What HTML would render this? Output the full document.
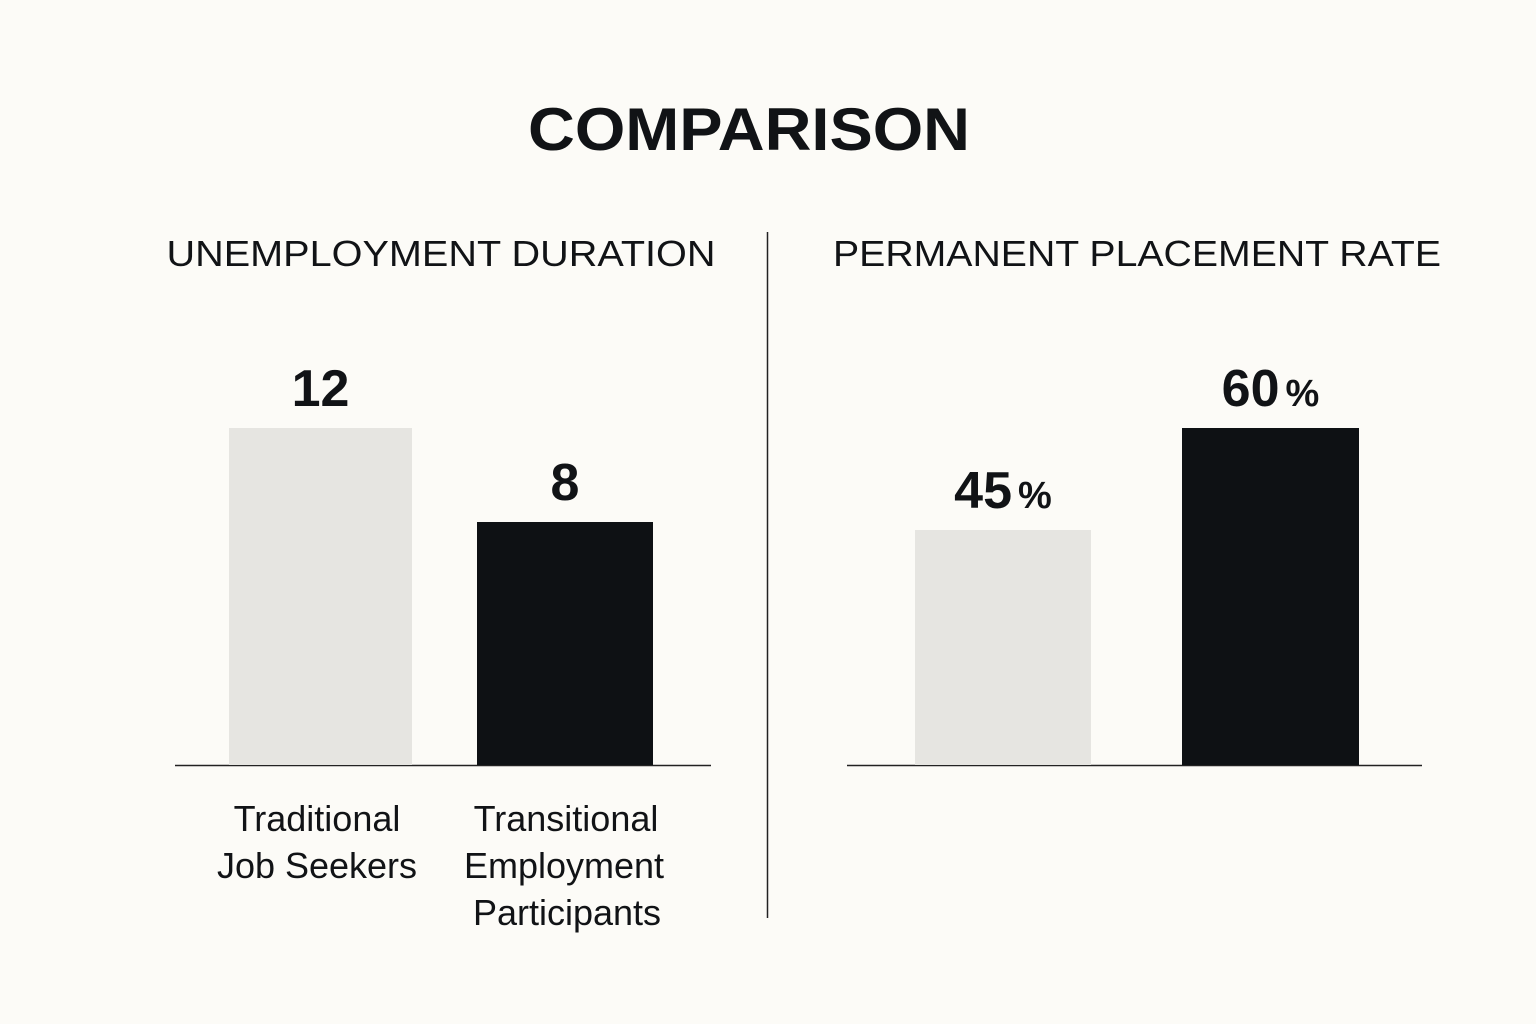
<!DOCTYPE html>
<html><head><meta charset="utf-8"><style>
html,body{margin:0;padding:0;background:#fcfbf7;}
svg{display:block;font-family:"Liberation Sans",sans-serif;}
</style></head><body>
<svg id="chart" width="1536" height="1024" viewBox="0 0 1536 1024">
<rect width="1536" height="1024" fill="#fcfbf7"/>
<text x="749" y="150" text-anchor="middle" font-size="60" font-weight="700" fill="#111316" textLength="442" lengthAdjust="spacingAndGlyphs">COMPARISON</text>
<text x="441" y="266" text-anchor="middle" font-size="36" font-weight="500" fill="#111316" textLength="549" lengthAdjust="spacingAndGlyphs">UNEMPLOYMENT DURATION</text>
<text x="1137" y="266" text-anchor="middle" font-size="36" font-weight="500" fill="#111316" textLength="608" lengthAdjust="spacingAndGlyphs">PERMANENT PLACEMENT RATE</text>
<line x1="767.5" y1="232" x2="767.5" y2="918" stroke="#222" stroke-width="1.5"/>
<line x1="175" y1="765.5" x2="711" y2="765.5" stroke="#222" stroke-width="1.5"/>
<line x1="847" y1="765.5" x2="1422" y2="765.5" stroke="#222" stroke-width="1.5"/>
<g id="cats" font-size="36" fill="#111316" text-anchor="middle">
<text x="317" y="831">Traditional</text>
<text x="317" y="878">Job Seekers</text>
<text x="566" y="831">Transitional</text>
<text x="564" y="878">Employment</text>
<text x="567" y="925">Participants</text>
</g>
</svg>
<script>
const leftCategories = ["Traditional Job Seekers", "Transitional Employment Participants"];
const leftValues = [12, 8];
const rightCategories = ["Traditional Job Seekers", "Transitional Employment Participants"];
const rightValues = [45, 60];
const rightSuffix = "%";

const NS = "http://www.w3.org/2000/svg";
const svg = document.getElementById("chart");
const baseY = 765;
const colors = ["#e6e5e1", "#0e1114"];

function makeScale(heightPerUnit, baseHeight) {
  return v => baseHeight + heightPerUnit * v;
}
const leftScale = makeScale(23.5, 55);
const rightScale = makeScale(6.8, -71);

function drawPanel(values, scale, xs, ws, suffix, prefix) {
  values.forEach((v, i) => {
    const h = scale(v);
    const r = document.createElementNS(NS, "rect");
    r.setAttribute("x", xs[i]);
    r.setAttribute("y", baseY - h);
    r.setAttribute("width", ws[i]);
    r.setAttribute("height", h);
    r.setAttribute("fill", colors[i]);
    
    
    svg.appendChild(r);
    const t = document.createElementNS(NS, "text");
    t.setAttribute("x", xs[i] + ws[i] / 2);
    t.setAttribute("y", baseY - h - 22);
    t.setAttribute("text-anchor", "middle");
    t.setAttribute("font-size", "52");
    t.setAttribute("font-weight", "700");
    t.setAttribute("fill", "#111316");
    t.textContent = String(v);
    if (suffix) {
      const s = document.createElementNS(NS, "tspan");
      s.setAttribute("font-size", "38");
      s.setAttribute("dx", "6");
      s.textContent = suffix;
      t.appendChild(s);
    }
    
    
    svg.appendChild(t);
  });
}
drawPanel(leftValues, leftScale, [229, 477], [183, 176], "", "left");
drawPanel(rightValues, rightScale, [915, 1182], [176, 177], rightSuffix, "right");
</script>
</body></html>
